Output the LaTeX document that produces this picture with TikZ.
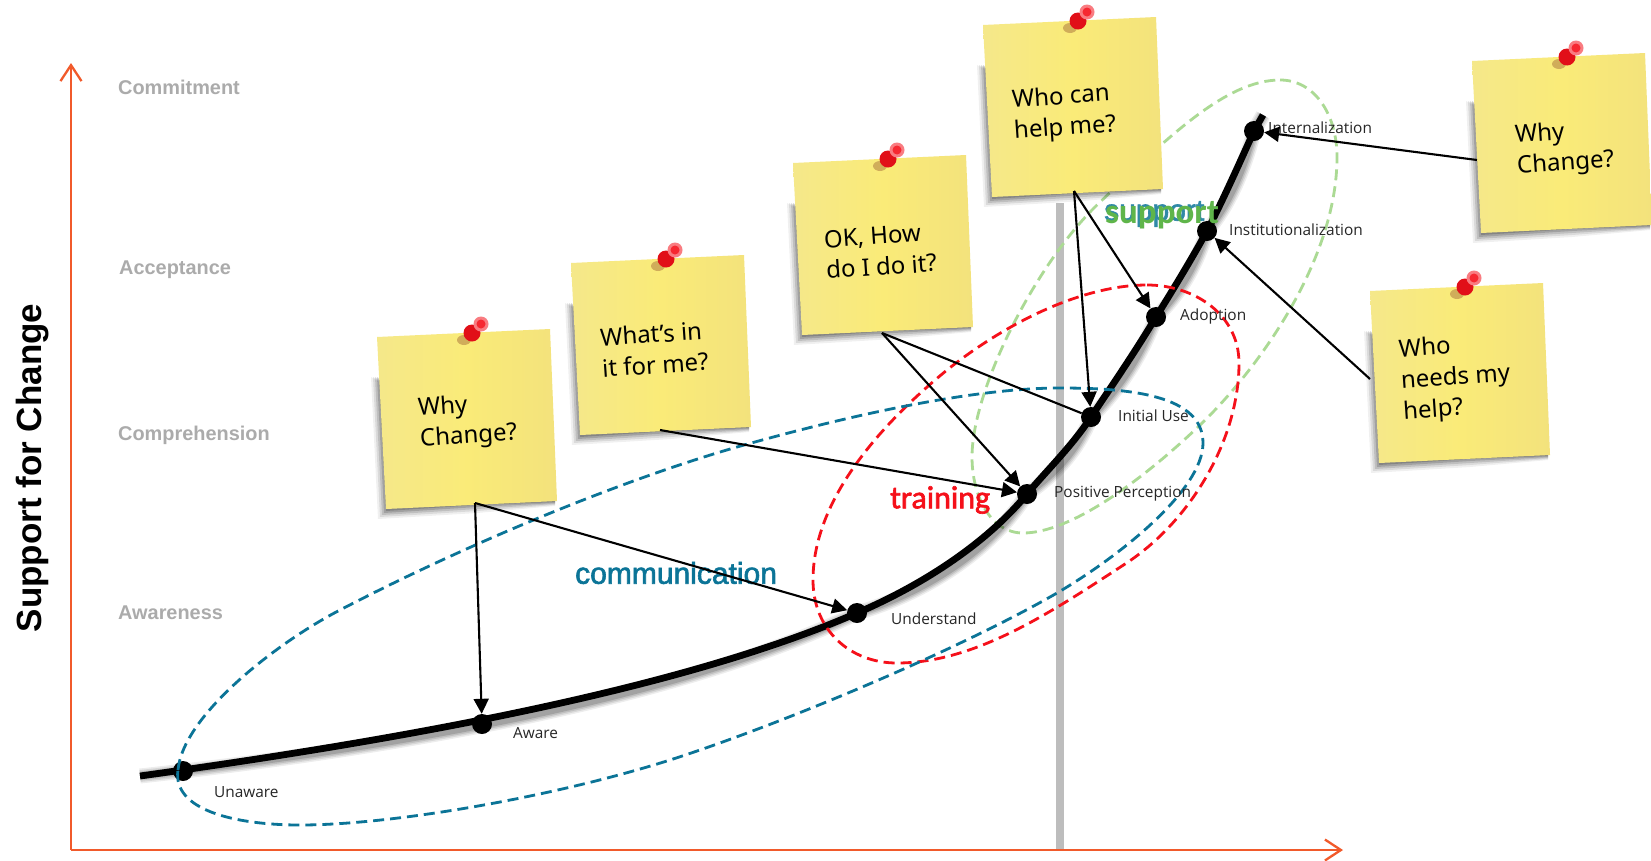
\documentclass[tikz,border=0pt]{standalone}
\usepackage{fontspec}
\usetikzlibrary{arrows.meta}
\setmainfont{Liberation Sans}
\newfontfamily\lblfont{Open Sans}
\newfontfamily\notefont{Noto Sans}
\newfontfamily\brfont{Carlito}
\newfontfamily\brthick[FakeBold=2]{Carlito}
\newfontfamily\medfont[FakeBold=2]{Liberation Sans}
\definecolor{axisc}{HTML}{F15A2B}
\definecolor{barc}{HTML}{BDBDBD}
\definecolor{lvl}{HTML}{ABABAB}
\definecolor{tealc}{HTML}{0B7497}
\definecolor{redc}{HTML}{F5101A}
\definecolor{greend}{HTML}{ABDA94}
\definecolor{greent}{HTML}{5FB54A}
\definecolor{noteA}{HTML}{F5E88A}
\definecolor{noteB}{HTML}{FAEB78}
\definecolor{noteC}{HTML}{F3E27C}
\definecolor{pinshadow}{HTML}{A8703C}
\tikzset{
 levellabel/.style={anchor=west,text=lvl,font=\bfseries\fontsize{19.9}{24}\selectfont,inner sep=0pt},
 stagelabel/.style={anchor=west,text=black!85,font=\lblfont\fontsize{15.4}{18}\selectfont,inner sep=0pt},
 stagedot/.style={circle,fill=black,minimum size=20pt,inner sep=0pt},
 notetext/.style={anchor=west,rotate=4,align=left,inner sep=0pt,font=\notefont\fontsize{24}{31}\selectfont},
 linkarrow/.style={draw=black,line width=2.1pt,-{Triangle[length=15pt,width=15pt]}},
 linkplain/.style={draw=black,line width=2.1pt},
 axisline/.style={draw=axisc,line width=2.3pt,-{Straight Barb[length=16pt,width=21pt]}},
 ringline/.style={line width=2.8pt,dash pattern=on 11pt off 6pt},
 curvec/.style={line width=6.8pt}
}
\newcommand{\stickynote}[3]{%
 \begin{scope}[shift={(#2,#3)}]
  \foreach \o/\s in {0/.18,2/.15,4/.12,6/.09,8/.06}{
   \fill[black,opacity=\s] (2-\o,40) -- (9-\o,172+\o+2) -- (100,168+\o) -- (178,165+\o/2) -- (178,150) -- cycle;
  }
  \shade[left color=noteA,right color=noteC,middle color=noteB]
    (0,0) -- (173,-8) -- (180,164) -- (9,172) -- cycle;
  \fill[pinshadow,opacity=.5] (87,3) ellipse (7pt and 5pt);
  \draw[line width=6pt,redc!85!black] (95,-4) -- (104,-13);
  \fill[redc!92!black] (95,-4) circle (8.5pt);
  \fill[redc!55!white] (104,-13) circle (7.5pt);
  \fill[redc!90!white] (104,-13) circle (4.5pt);
 \end{scope}}
\newcommand{\curvepath}{(cs) .. controls (400,740) and (680,690) .. (c3)
  .. controls (920,586) and (985,545) .. (c4)
  .. controls (1048,469) and (1072,446) .. (c5)
  .. controls (1113,384) and (1135,352) .. (c6)
  .. controls (1174,288) and (1191,260) .. (c7)
  .. controls (1223,200) and (1239,164) .. (c8)
  -- (ce)}
\begin{document}
\begin{tikzpicture}[x=1pt,y=-1pt]
\clip (0,0) rectangle (1651,860);
\fill[white] (0,0) rectangle (1651,860);
% grey bar
\fill[barc] (1056,203) rectangle (1064,850);
% axes
\coordinate (origin) at (71,850);
\coordinate (ytip) at (71,63);
\coordinate (xtip) at (1343,850);
\draw[axisline] (origin) -- (ytip);
\draw[axisline] (origin) -- (xtip);
% stage coordinates
\coordinate (cs) at (140,776);
\coordinate (c1) at (183,771);
\coordinate (c2) at (482,724);
\coordinate (c3) at (857,613);
\coordinate (c4) at (1027,494);
\coordinate (c5) at (1091,417);
\coordinate (c6) at (1156,317);
\coordinate (c7) at (1207,231);
\coordinate (c8) at (1254,131);
\coordinate (ce) at (1263,115);
% green region behind the curve
\draw[ringline,greend] (1280,80) .. controls (1315,80) and (1337,115) .. (1337,157)
  .. controls (1337,260) and (1258,370) .. (1198,427)
  .. controls (1140,482) and (1070,533) .. (1023,533)
  .. controls (990,533) and (972,495) .. (972,457)
  .. controls (972,390) and (1035,265) .. (1097,205)
  .. controls (1165,140) and (1225,80) .. (1280,80) -- cycle;
% curve shadow
\begin{scope}[shift={(5,7)}]
 \foreach \w/\s in {15/.07,12/.09,9/.11,6/.15}{
  \draw[black,opacity=\s,line width=\w pt] \curvepath;
 }
\end{scope}
\draw[black,curvec] \curvepath;
% dots
\node[stagedot] (unaware) at (c1) {};
\node[stagedot] (aware) at (c2) {};
\node[stagedot] (understand) at (c3) {};
\node[stagedot] (positive) at (c4) {};
\node[stagedot] (initial) at (c5) {};
\node[stagedot] (adoption) at (c6) {};
\node[stagedot] (institution) at (c7) {};
\node[stagedot] (internal) at (c8) {};
% dashed regions
\draw[ringline,redc] (1147,285) .. controls (1195,285) and (1239,315) .. (1239,363)
  .. controls (1239,440) and (1190,522) .. (1125,564)
  .. controls (1050,613) and (975,663) .. (897,663)
  .. controls (850,663) and (813,630) .. (813,580)
  .. controls (813,500) and (880,425) .. (947,370)
  .. controls (1010,320) and (1085,285) .. (1147,285) -- cycle;
\draw[ringline,tealc] (178,770) .. controls (183,715) and (278,642) .. (340,610)
  .. controls (455,550) and (612,483) .. (737,447)
  .. controls (843,417) and (970,388) .. (1060,388)
  .. controls (1130,388) and (1203,395) .. (1203,443)
  .. controls (1203,490) and (1120,556) .. (1057,593)
  .. controls (962,648) and (785,723) .. (670,760)
  .. controls (550,798) and (390,825) .. (300,825)
  .. controls (235,825) and (172,810) .. (178,770) -- cycle;
% notes
\stickynote{n1}{377}{337}
\stickynote{n2}{571}{263}
\stickynote{n3}{793}{163}
\stickynote{n4}{983}{25}
\stickynote{n5}{1472}{61}
\stickynote{n6}{1370}{291}
\node[notetext] (t1) at (419,425) {Why\\Change?};
\node[notetext] (t2) at (601,353) {What’s in\\it for me?};
\node[notetext] (t3) at (825,255) {OK, How\\do I do it?};
\node[notetext] (t4) at (1013,117) {Who can\\help me?};
\node[notetext] (t5) at (1516,152) {Why\\Change?};
\node[notetext] (t6) at (1401,382) {Who\\needs my\\help?};
% labels
\node[levellabel] (lc) at (118,87) {Commitment};
\node[levellabel] (la) at (119,270) {Acceptance};
\node[levellabel] (lp) at (118,435) {Comprehension};
\node[levellabel] (lw) at (118,613) {Awareness};
\node[stagelabel] (s1) at (214,792) {Unaware};
\node[stagelabel] (s2) at (513,733) {Aware};
\node[stagelabel] (s3) at (891,619) {Understand};
\node[stagelabel] (s4) at (1054,494) {Positive Perception};
\node[stagelabel] (s5) at (1118,416) {Initial Use};
\node[stagelabel] (s6) at (1180,316) {Adoption};
\node[stagelabel] (s7) at (1229,230) {Institutionalization};
\node[stagelabel] (s8) at (1268,128) {Internalization};
\node[anchor=center,rotate=90,inner sep=0pt,font=\bfseries\fontsize{35}{40}\selectfont] (ylabel) at (33,468) {Support for Change};
\node[anchor=west,inner sep=0pt,text=tealc,font=\medfont\fontsize{30}{36}\selectfont] (comm) at (575,573) {communication};
\node[anchor=west,inner sep=0pt,text=redc,font=\brthick\fontsize{32}{36}\selectfont] (train) at (890,500) {training};
\node[anchor=west,inner sep=0pt,text=tealc!85!white,font=\medfont\fontsize{30}{34}\selectfont] (supa) at (1104,214) {support};
\node[anchor=west,inner sep=0pt,text=greent,font=\brfont\bfseries\fontsize{35}{38}\selectfont] (supb) at (1105,215) {support};
% connectors
\coordinate (o1) at (475,503);
\coordinate (o2) at (660,430);
\coordinate (o3) at (882,333);
\coordinate (o4) at (1074,191);
\coordinate (o5) at (1477,160);
\coordinate (o6) at (1370,379);
\draw[linkarrow] (o1) -- (aware);
\draw[linkarrow] (o1) -- (understand);
\draw[linkarrow] (o2) -- (positive);
\draw[linkarrow] (o3) -- (positive);
\draw[linkplain] (o3) -- (initial);
\draw[linkarrow] (o4) -- (adoption);
\draw[linkarrow] (o4) -- (initial);
\draw[linkarrow] (o5) -- (internal);
\draw[linkarrow] (o6) -- (institution);
\end{tikzpicture}
\end{document}
